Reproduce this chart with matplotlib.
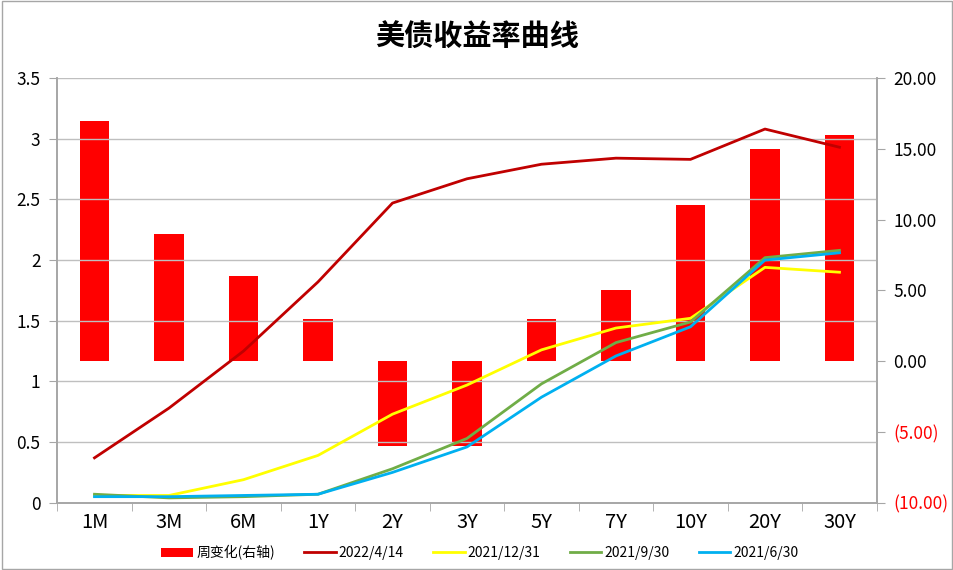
import matplotlib
matplotlib.use("Agg")
import matplotlib.pyplot as plt
import numpy as np
from matplotlib.patches import Rectangle

plt.rcParams['font.family'] = ['Noto Sans CJK SC', 'DejaVu Sans']

tenors = ["1M", "3M", "6M", "1Y", "2Y", "3Y", "5Y", "7Y", "10Y", "20Y", "30Y"]
weekly_change = [17, 9, 6, 3, -6, -6, 3, 5, 11, 15, 16]
y_20220414 = [0.37, 0.78, 1.25, 1.82, 2.47, 2.67, 2.79, 2.84, 2.83, 3.08, 2.93]
y_20211231 = [0.06, 0.06, 0.19, 0.39, 0.73, 0.97, 1.26, 1.44, 1.52, 1.94, 1.90]
y_20210930 = [0.07, 0.04, 0.05, 0.07, 0.28, 0.53, 0.98, 1.32, 1.49, 2.02, 2.08]
y_20210630 = [0.05, 0.05, 0.06, 0.07, 0.25, 0.46, 0.87, 1.21, 1.45, 2.00, 2.06]

series = [
    ("2022/4/14", y_20220414, "#c00000"),
    ("2021/12/31", y_20211231, "#ffff00"),
    ("2021/9/30", y_20210930, "#70ad47"),
    ("2021/6/30", y_20210630, "#00b0f0"),
]

fig = plt.figure(figsize=(9.54, 5.70), dpi=100)
fig.patches.append(Rectangle((0.002, 0.002), 0.996, 0.996, transform=fig.transFigure,
                             fill=False, edgecolor="#a6a6a6", linewidth=1))
ax = fig.add_axes([0.060, 0.118, 0.859, 0.745])
ax2 = ax.twinx()

x = np.arange(len(tenors))
ax2.bar(x, weekly_change, width=0.4, color="#ff0000", label="周变化(右轴)", zorder=1)
ax2.set_ylim(-10, 20)
ax2.set_yticks(np.arange(-10, 21, 5))
ax2.set_yticklabels([f"({abs(v):.2f})" if v < 0 else f"{v:.2f}" for v in range(-10, 21, 5)])
for lbl, v in zip(ax2.get_yticklabels(), range(-10, 21, 5)):
    if v < 0:
        lbl.set_color("#ff0000")

ax.set_zorder(ax2.get_zorder() + 1)
ax.patch.set_visible(False)
for name, vals, col in series:
    ax.plot(x, vals, color=col, linewidth=2, label=name)

ax.set_ylim(0, 3.5)
ax.set_yticks(np.arange(0, 3.51, 0.5))
ax.set_yticklabels(["0", "0.5", "1", "1.5", "2", "2.5", "3", "3.5"])
ax.set_xlim(-0.5, len(tenors) - 0.5)
ax.set_xticks(x)
ax.set_xticklabels(tenors)
ax.set_xticks(np.arange(-0.5, len(tenors), 1), minor=True)
ax.tick_params(axis="x", which="major", length=0, pad=7, labelsize=14.5)
ax.tick_params(axis="x", which="minor", length=6, color="#a6a6a6")
ax.tick_params(axis="y", length=6, color="#a6a6a6", labelsize=12.5, pad=6)
ax2.tick_params(axis="y", length=6, color="#a6a6a6", labelsize=12.5, pad=6)
ax.grid(axis="y", color="#bfbfbf", linewidth=1)
ax2.grid(False)
for a in (ax, ax2):
    a.spines["top"].set_visible(False)
    for s in ("left", "right", "bottom"):
        a.spines[s].set_color("#a6a6a6")
        a.spines[s].set_linewidth(1.2)

fig.suptitle("美债收益率曲线", x=0.50, y=0.962, fontsize=21, fontweight="bold")

h1, l1 = ax2.get_legend_handles_labels()
h2, l2 = ax.get_legend_handles_labels()
fig.legend(h1 + h2, l1 + l2, loc="lower center", bbox_to_anchor=(0.503, -0.005), ncol=5,
           frameon=False, fontsize=10, handlelength=2.3, columnspacing=2.1, handletextpad=0.2)

fig.savefig("out.png", dpi=100)
